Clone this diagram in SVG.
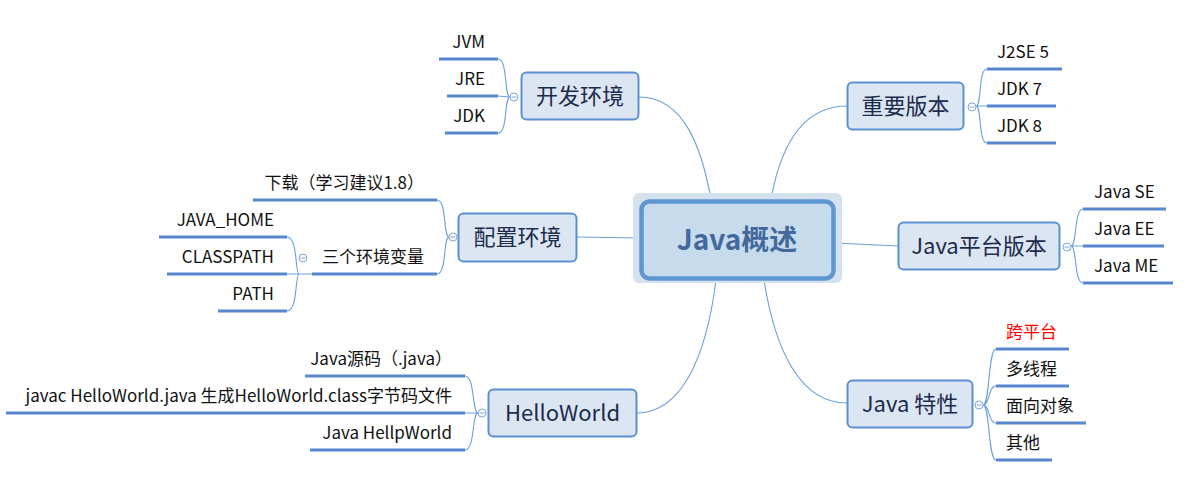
<svg xmlns="http://www.w3.org/2000/svg" width="1191" height="486" viewBox="0 0 1191 486">
<style>
text{font-family:"Noto Sans CJK SC","Noto Sans",sans-serif;}
.node{fill:#dce6f2;stroke:#5b8fd2;stroke-width:2;}
.nt{font-size:22px;fill:#1b2b4b;text-anchor:middle;}
.ct{font-size:17px;fill:#111;}
.end{text-anchor:end;}
.ul{stroke:#5886cf;stroke-width:3;fill:none;}
.conn{stroke:#6a9fe0;stroke-width:1.1;fill:none;}
.br{stroke:#6a9fe0;stroke-width:1.1;fill:none;}
.tog{fill:#fff;stroke:#7fa8d8;stroke-width:1;}
.togm{stroke:#7fa8d8;stroke-width:1;}
</style>
<g id="connectors">
<path class="conn" d="M639,97 C685,97 702,150 711,199"/>
<path class="conn" d="M771,199 C780,150 800,106 847,106"/>
<path class="conn" d="M640,238 L577,237"/>
<path class="conn" d="M835,243 L898,246"/>
<path class="conn" d="M716,280 C706,360 680,413 637,413"/>
<path class="conn" d="M764,280 C775,350 800,403 847,403"/>
<!-- brackets -->
<path class="br" d="M510,97 C504,97 508,59 498,59 M510,97 L498,96 M510,97 C504,97 508,133 498,133"/>
<path class="br" d="M976,106 C982,106 978,69 987,69 M976,106 L987,106 M976,106 C982,106 978,143 987,143"/>
<path class="br" d="M449,237 C443,237 447,200 437,200 M449,237 C443,237 447,274 437,274"/>
<path class="br" d="M312,274 L299,274 M299,274 C295,274 298,237 287,237 M299,274 L287,274 M299,274 C295,274 298,311 287,311"/>
<path class="br" d="M1071,246 C1077,246 1074,209 1083,209 M1071,246 L1083,246 M1071,246 C1077,246 1074,283 1083,283"/>
<path class="br" d="M983,405 C990,405 988,349 996,349 M983,405 C990,405 988,386 996,386 M983,405 C990,405 988,423 996,423 M983,405 C990,405 988,460 996,460"/>
<path class="br" d="M478,413 C472,413 475,376 465,376 M478,413 L465,413 M478,413 C472,413 475,450 465,450"/>
</g>
<g id="center">
<rect x="633" y="193" width="209" height="90" rx="6" fill="#d5e2ee"/>
<rect x="641.5" y="201.5" width="192" height="77" rx="8" fill="#c6dbec" stroke="#5e96d2" stroke-width="4.5"/>
<text x="737" y="250" text-anchor="middle" font-size="28" font-weight="bold" fill="#43699b">Java概述</text>
</g>
<g id="n-kaifa">
<rect class="node" x="521.5" y="72.5" width="117" height="47" rx="5"/>
<text class="nt" x="580" y="104">开发环境</text>
<circle class="tog" cx="514" cy="97" r="4"/><path class="togm" d="M511.5,97 H516.5"/>
<line class="ul" x1="439" y1="59" x2="498" y2="59"/><text class="ct end" x="485" y="48">JVM</text>
<line class="ul" x1="447" y1="96" x2="498" y2="96"/><text class="ct end" x="485" y="85">JRE</text>
<line class="ul" x1="445" y1="133" x2="498" y2="133"/><text class="ct end" x="485" y="122">JDK</text>
</g>
<g id="n-banben">
<rect class="node" x="847.5" y="82.5" width="116" height="47" rx="5"/>
<text class="nt" x="905.5" y="114">重要版本</text>
<circle class="tog" cx="972" cy="107" r="4"/><path class="togm" d="M969.5,107 H974.5"/>
<line class="ul" x1="987" y1="69" x2="1062" y2="69"/><text class="ct" x="997" y="58">J2SE 5</text>
<line class="ul" x1="987" y1="106" x2="1056" y2="106"/><text class="ct" x="997" y="95">JDK 7</text>
<line class="ul" x1="987" y1="143" x2="1056" y2="143"/><text class="ct" x="997" y="132">JDK 8</text>
</g>
<g id="n-peizhi">
<rect class="node" x="458.5" y="213.5" width="118" height="48" rx="5"/>
<text class="nt" x="517.5" y="245">配置环境</text>
<circle class="tog" cx="453" cy="237" r="4"/><path class="togm" d="M450.5,237 H455.5"/>
<line class="ul" x1="253" y1="200" x2="437" y2="200"/><text class="ct end" x="424" y="189">下载（学习建议1.8）</text>
<line class="ul" x1="312" y1="274" x2="437" y2="274"/><text class="ct end" x="424" y="263">三个环境变量</text>
</g>
<g id="n-bianliang">
<circle class="tog" cx="303" cy="258" r="4"/><path class="togm" d="M300.5,258 H305.5"/>
<line class="ul" x1="159" y1="237" x2="287" y2="237"/><text class="ct end" x="274" y="226">JAVA_HOME</text>
<line class="ul" x1="167" y1="274" x2="287" y2="274"/><text class="ct end" x="274" y="263">CLASSPATH</text>
<line class="ul" x1="218" y1="311" x2="287" y2="311"/><text class="ct end" x="274" y="300">PATH</text>
</g>
<g id="n-pingtai">
<rect class="node" x="898.5" y="222.5" width="161" height="47" rx="5"/>
<text class="nt" x="979" y="254">Java平台版本</text>
<circle class="tog" cx="1067" cy="247" r="4"/><path class="togm" d="M1064.5,247 H1069.5"/>
<line class="ul" x1="1083" y1="209" x2="1166" y2="209"/><text class="ct" x="1094" y="198">Java SE</text>
<line class="ul" x1="1083" y1="246" x2="1164" y2="246"/><text class="ct" x="1094" y="235">Java EE</text>
<line class="ul" x1="1083" y1="283" x2="1173" y2="283"/><text class="ct" x="1094" y="272">Java ME</text>
</g>
<g id="n-hello">
<rect class="node" x="488.5" y="389.5" width="148" height="47" rx="5"/>
<text class="nt" x="562.5" y="421">HelloWorld</text>
<circle class="tog" cx="482" cy="413" r="4"/><path class="togm" d="M479.5,413 H484.5"/>
<line class="ul" x1="305" y1="376" x2="465" y2="376"/><text class="ct end" x="452" y="365">Java源码（.java）</text>
<line class="ul" x1="6" y1="413" x2="465" y2="413"/><text class="ct end" x="452" y="402">javac HelloWorld.java 生成HelloWorld.class字节码文件</text>
<line class="ul" x1="310" y1="450" x2="465" y2="450"/><text class="ct end" x="452" y="439">Java HellpWorld</text>
</g>
<g id="n-texing">
<rect class="node" x="847.5" y="380.5" width="125" height="47" rx="5"/>
<text class="nt" x="910" y="412">Java 特性</text>
<circle class="tog" cx="979" cy="405" r="4"/><path class="togm" d="M976.5,405 H981.5"/>
<line class="ul" x1="996" y1="349" x2="1069" y2="349"/><text class="ct" x="1006" y="338" fill="#ff0000" style="fill:#ff0000">跨平台</text>
<line class="ul" x1="996" y1="386" x2="1069" y2="386"/><text class="ct" x="1006" y="375">多线程</text>
<line class="ul" x1="996" y1="423" x2="1086" y2="423"/><text class="ct" x="1006" y="412">面向对象</text>
<line class="ul" x1="996" y1="460" x2="1052" y2="460"/><text class="ct" x="1006" y="449">其他</text>
</g>
</svg>
